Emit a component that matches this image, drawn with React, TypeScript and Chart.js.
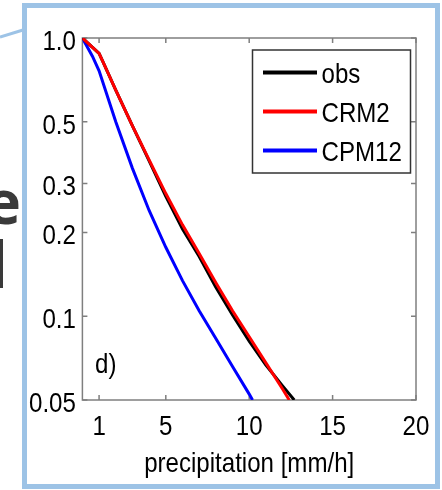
import React, { useEffect, useRef } from "react";
import { Chart, registerables } from "chart.js";

Chart.register(...registerables);

// ---- data ----
const xTicks = [1, 5, 10, 15, 20];
const xTickLabels = ["1", "5", "10", "15", "20"];
const yTicks = [0.05, 0.1, 0.2, 0.3, 0.5, 1.0];
const yTickLabels = ["0.05", "0.1", "0.2", "0.3", "0.5", "1.0"];

const seriesNames = ["obs", "CRM2", "CPM12"];
const seriesColors = ["#000000", "#ff0000", "#0000ff"];

const obsX = [0, 1, 1.2, 2, 3, 4, 5, 6, 7, 8, 9, 10, 11, 12, 12.7];
const obsY = [1.0, 0.88, 0.83, 0.65, 0.483, 0.362, 0.27, 0.206, 0.164, 0.127, 0.101, 0.0813, 0.0668, 0.0562, 0.05];

const crmX = [0, 1, 1.2, 2, 3, 4, 5, 6, 7, 8, 9, 10, 11, 12, 12.4];
const crmY = [1.0, 0.88, 0.83, 0.65, 0.483, 0.365, 0.276, 0.213, 0.168, 0.132, 0.1046, 0.0844, 0.068, 0.0548, 0.05];

const cpmX = [0, 0.6, 1, 2, 3, 4, 5, 6, 7, 8, 9, 10, 10.2];
const cpmY = [1.0, 0.86, 0.762, 0.5, 0.34, 0.24, 0.177, 0.1343, 0.1047, 0.0832, 0.066, 0.0525, 0.05];

const panelLabel = "d)";
const panelLabelX = 0.76;
const panelLabelY = 0.0674;
const xTitle = "precipitation [mm/h]";

const FONT = "'Liberation Sans', Arial, Helvetica, sans-serif";
const FS = 28;
const SX = 0.86; // narrow (MATLAB-export look) horizontal text scale
const SLIDE_BLUE = "#9dc3e6";

const toPoints = (xs: number[], ys: number[]) => xs.map((x, i) => ({ x, y: ys[i] }));

function narrowText(ctx: any, text: string, x: number, y: number, align: string) {
  ctx.save();
  ctx.translate(x, y);
  ctx.scale(SX, 1);
  ctx.textAlign = align;
  ctx.textBaseline = "alphabetic";
  ctx.fillText(text, 0, 0);
  ctx.restore();
}

const decorPlugin = {
  id: "decor",
  beforeDraw(chart: any) {
    const ctx = chart.ctx;
    ctx.save();
    ctx.fillStyle = "#ffffff";
    ctx.fillRect(0, 0, chart.width, chart.height);
    // slide text fragments on the left
    ctx.fillStyle = "#3a3a3a";
    ctx.textBaseline = "alphabetic";
    ctx.textAlign = "right";
    ctx.font = "bold 60px 'Open Sans', 'Noto Sans', sans-serif";
    ctx.fillText("e", 21, 224);
    ctx.font = "bold 64px 'Open Sans', 'Noto Sans', sans-serif";
    ctx.fillText("l", 8, 288);
    // slide frame
    ctx.strokeStyle = SLIDE_BLUE;
    ctx.lineWidth = 5;
    ctx.strokeRect(24.5, 5.5, 413, 481);
    ctx.lineWidth = 3;
    ctx.beginPath();
    ctx.moveTo(0, 37);
    ctx.lineTo(23, 30);
    ctx.stroke();
    ctx.restore();
  },
  beforeDatasetsDraw(chart: any) {
    const ctx = chart.ctx;
    const { left, right, top, bottom } = chart.chartArea;
    const xs = chart.scales.x;
    const ys = chart.scales.y;
    ctx.save();
    ctx.strokeStyle = "#7f7f7f";
    ctx.lineWidth = 1.5;
    ctx.strokeRect(left, top, right - left, bottom - top);
    const tl = 5;
    ctx.beginPath();
    xTicks.forEach((v) => {
      const px = xs.getPixelForValue(v);
      ctx.moveTo(px, bottom);
      ctx.lineTo(px, bottom - tl);
      ctx.moveTo(px, top);
      ctx.lineTo(px, top + tl);
    });
    yTicks.forEach((v) => {
      const py = ys.getPixelForValue(v);
      ctx.moveTo(left, py);
      ctx.lineTo(left + tl, py);
      ctx.moveTo(right, py);
      ctx.lineTo(right - tl, py);
    });
    ctx.stroke();
    // tick labels, axis title, panel label
    ctx.fillStyle = "#000";
    ctx.font = `${FS}px ${FONT}`;
    xTicks.forEach((v, i) => {
      narrowText(ctx, xTickLabels[i], xs.getPixelForValue(v), bottom + 35, "center");
    });
    yTicks.forEach((v, i) => {
      narrowText(ctx, yTickLabels[i], left - 6.5, ys.getPixelForValue(v) + 12, "right");
    });
    narrowText(ctx, xTitle, (left + right) / 2, bottom + 71.5, "center");
    narrowText(ctx, panelLabel, xs.getPixelForValue(panelLabelX), ys.getPixelForValue(panelLabelY) + 9, "left");
    ctx.restore();
  },
  afterDatasetsDraw(chart: any) {
    const ctx = chart.ctx;
    const { right, top } = chart.chartArea;
    const boxR = right - 5.5;
    const boxL = boxR - 158;
    const boxT = top + 12;
    const boxH = 123;
    ctx.save();
    ctx.fillStyle = "#ffffff";
    ctx.fillRect(boxL, boxT, boxR - boxL, boxH);
    ctx.strokeStyle = "#333333";
    ctx.lineWidth = 1.5;
    ctx.strokeRect(boxL, boxT, boxR - boxL, boxH);
    ctx.font = `${FS}px ${FONT}`;
    chart.data.datasets.forEach((ds: any, i: number) => {
      const cy = boxT + 22.5 + i * 39;
      ctx.strokeStyle = ds.borderColor;
      ctx.lineWidth = 4;
      ctx.beginPath();
      ctx.moveTo(boxL + 10.5, cy);
      ctx.lineTo(boxL + 64.5, cy);
      ctx.stroke();
      ctx.fillStyle = "#000";
      narrowText(ctx, ds.label, boxL + 69, cy + 10.5, "left");
    });
    ctx.restore();
  },
};

export default function App() {
  const ref = useRef<HTMLCanvasElement>(null);
  useEffect(() => {
    const seriesData = [toPoints(obsX, obsY), toPoints(crmX, crmY), toPoints(cpmX, cpmY)];
    const orders = [2, 1, 3];
    const chart = new Chart(ref.current as HTMLCanvasElement, {
      type: "scatter",
      data: {
        datasets: seriesNames.map((name, i) => ({
          label: name,
          data: seriesData[i],
          showLine: true,
          borderColor: seriesColors[i],
          backgroundColor: seriesColors[i],
          borderWidth: 3,
          pointRadius: 0,
          pointHoverRadius: 0,
          tension: 0,
          order: orders[i],
        })),
      },
      options: {
        responsive: false,
        animation: false,
        events: [],
        layout: { padding: { left: 0, right: 26, top: 38, bottom: 0 } },
        plugins: { legend: { display: false }, tooltip: { enabled: false } },
        scales: {
          x: {
            type: "linear",
            min: 0,
            max: 20,
            grid: { display: false, drawTicks: false },
            border: { display: false },
            afterBuildTicks: (s: any) => {
              s.ticks = xTicks.map((v) => ({ value: v }));
            },
            afterFit: (s: any) => {
              s.height = 90;
            },
            ticks: { display: false },
          },
          y: {
            type: "logarithmic",
            min: 0.05,
            max: 1,
            grid: { display: false, drawTicks: false },
            border: { display: false },
            afterBuildTicks: (s: any) => {
              s.ticks = yTicks.map((v) => ({ value: v }));
            },
            afterFit: (s: any) => {
              s.width = 82.4;
            },
            ticks: { display: false },
          },
        },
      },
      plugins: [decorPlugin],
    } as any);
    return () => chart.destroy();
  }, []);
  return (
    <div style={{ position: "fixed", left: 0, top: 0, width: 442, height: 490, background: "#fff" }}>
      <canvas ref={ref} width={442} height={490} style={{ display: "block", width: 442, height: 490 }} />
    </div>
  );
}
